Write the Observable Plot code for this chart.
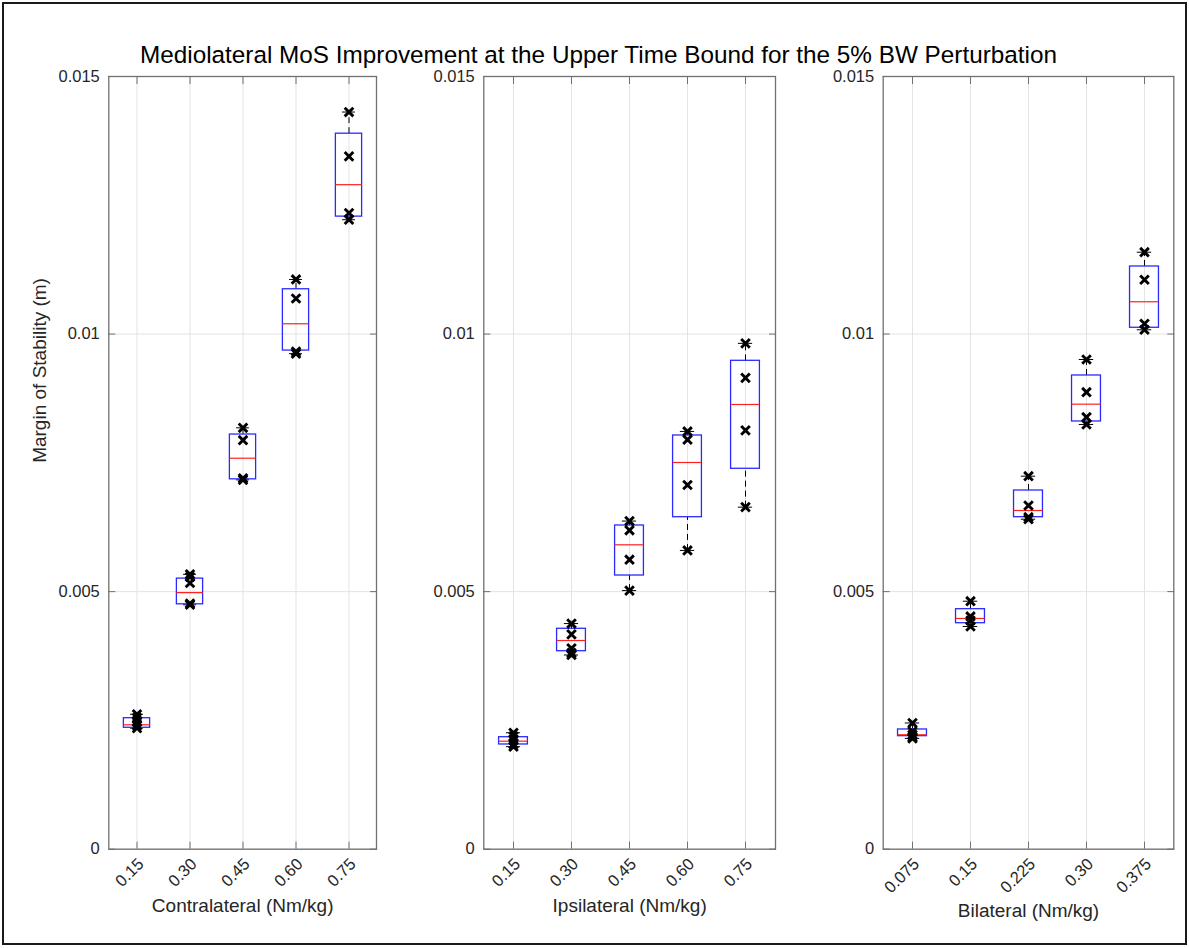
<!DOCTYPE html>
<html><head><meta charset="utf-8">
<script src="https://cdn.jsdelivr.net/npm/d3@7"></script>
<script src="https://cdn.jsdelivr.net/npm/@observablehq/plot@0.6"></script>
<style>
body{margin:0;background:#fff;}
#fig{position:relative;width:1189px;height:948px;overflow:hidden;font-family:"Liberation Sans",Arial,sans-serif;background:#fff;}
#border{position:absolute;left:2px;top:2px;width:1181px;height:939px;border:2px solid #1a1a1a;z-index:3;}
#title{position:absolute;top:43px;left:0;width:1197px;text-align:center;font-size:24.3px;line-height:24px;color:#000;z-index:2;}
.panel{position:absolute;top:0;}
</style></head><body>
<div id="fig"></div>
<script>
// ---- data ----
const titleText = "Mediolateral MoS Improvement at the Upper Time Bound for the 5% BW Perturbation";
const yLabelText = "Margin of Stability (m)";
const yTicks = [0, 0.005, 0.01, 0.015];
const yTickLabels = ["0", "0.005", "0.01", "0.015"];

const contraCats = ["0.15", "0.30", "0.45", "0.60", "0.75"];
const contraQ1  = [0.002357, 0.004754, 0.00718, 0.00968, 0.01228];
const contraMed = [0.002415, 0.004981, 0.00759, 0.01020, 0.01290];
const contraQ3  = [0.002543, 0.005253, 0.00805, 0.01087, 0.01389];
const contraPts = [
  [0.00262, 0.00255, 0.00247, 0.00240, 0.00235],
  [0.005336, 0.005284, 0.005167, 0.004768, 0.004745],
  [0.00818, 0.00794, 0.00720, 0.00717],
  [0.01106, 0.01069, 0.00966, 0.00962],
  [0.01431, 0.01345, 0.01235, 0.01222]
];

const ipsiCats = ["0.15", "0.30", "0.45", "0.60", "0.75"];
const ipsiQ1  = [0.002033, 0.003844, 0.005313, 0.006445, 0.007385];
const ipsiMed = [0.002097, 0.004051, 0.005909, 0.007507, 0.008633];
const ipsiQ3  = [0.002174, 0.004279, 0.006284, 0.008031, 0.009481];
const ipsiPts = [
  [0.00226, 0.00219, 0.00212, 0.00204, 0.00199],
  [0.00438, 0.00417, 0.00390, 0.00381, 0.00377],
  [0.00637, 0.00619, 0.00562, 0.00502],
  [0.00811, 0.00795, 0.00707, 0.00580],
  [0.00982, 0.00915, 0.00813, 0.00664]
];

const bilatCats = ["0.075", "0.15", "0.225", "0.30", "0.375"];
const bilatQ1  = [0.002194, 0.004387, 0.006445, 0.008303, 0.010122];
const bilatMed = [0.002221, 0.004479, 0.006575, 0.008639, 0.010627];
const bilatQ3  = [0.002324, 0.004659, 0.006963, 0.009196, 0.011312];
const bilatPts = [
  [0.00245, 0.00229, 0.00222, 0.00218, 0.00215],
  [0.004814, 0.004518, 0.00444, 0.004323],
  [0.007241, 0.006672, 0.006445, 0.006406],
  [0.009506, 0.008872, 0.008386, 0.008245],
  [0.011589, 0.011054, 0.0102, 0.010083]
];

// ---- drawing ----
const FONT = '"Liberation Sans", Arial, sans-serif';
const AXC = "#707070";
const fig = document.getElementById("fig");

function panel({cats, q1, med, q3, pts, xLabel, yLabel, left, marginLeft, plotWidth, xLabelDy}) {
  const rows = cats.map((c, i) => ({cat: c, q1: q1[i], med: med[i], q3: q3[i], lo: d3.min(pts[i]), hi: d3.max(pts[i])}));
  const points = cats.flatMap((c, i) => pts[i].map(v => ({cat: c, v})));
  const bw = plotWidth / cats.length;
  const marginTop = 76, marginBottom = 948 - 848.7, marginRight = 10;
  const marks = [
    Plot.gridX(cats, {stroke: "#e3e3e3", strokeOpacity: 1}),
    Plot.gridY(yTicks, {stroke: "#e3e3e3", strokeOpacity: 1}),
    Plot.ruleX(rows, {x: "cat", y1: "q3", y2: "hi", stroke: "black", strokeDasharray: "6,4"}),
    Plot.ruleX(rows, {x: "cat", y1: "lo", y2: "q1", stroke: "black", strokeDasharray: "6,4"}),
    Plot.tickY(rows, {x: "cat", y: "hi", stroke: "black", insetLeft: bw * 0.375, insetRight: bw * 0.375}),
    Plot.tickY(rows, {x: "cat", y: "lo", stroke: "black", insetLeft: bw * 0.375, insetRight: bw * 0.375}),
    Plot.barY(rows, {x: "cat", y1: "q1", y2: "q3", fill: "none", stroke: "#2a2aff", strokeWidth: 1.3, insetLeft: bw * 0.25, insetRight: bw * 0.25}),
    Plot.tickY(rows, {x: "cat", y: "med", stroke: "#ff2020", strokeWidth: 1.2, insetLeft: bw * 0.25, insetRight: bw * 0.25}),
    Plot.dot(points, {x: "cat", y: "v", symbol: "times", r: 4, stroke: "black", strokeWidth: 2.9}),
    Plot.frame({stroke: AXC, strokeWidth: 1.3}),
    Plot.axisY({anchor: "left", ticks: yTicks, tickSize: 0, tickPadding: 9, fontSize: 16.5, tickFormat: d => yTickLabels[yTicks.indexOf(d)], fill: "#262626", label: null}),
    Plot.axisY({anchor: "left", ticks: yTicks, tickSize: -7, stroke: AXC, tickFormat: () => "", label: null}),
    Plot.axisY({anchor: "right", ticks: yTicks, tickSize: -7, stroke: AXC, tickFormat: () => "", label: null}),
    Plot.axisX({anchor: "bottom", tickSize: 0, tickRotate: -45, tickPadding: 12, dx: 4, fontSize: 16.5, fill: "#262626", label: null}),
    Plot.axisX({anchor: "bottom", tickSize: -7, stroke: AXC, tickFormat: () => "", label: null}),
    Plot.axisX({anchor: "top", tickSize: -7, stroke: AXC, tickFormat: () => "", label: null}),
    Plot.text([xLabel], {frameAnchor: "bottom", dy: xLabelDy, fontSize: 19, fill: "#262626", text: d => d})
  ];
  if (yLabel) marks.push(Plot.text([yLabel], {frameAnchor: "left", dx: -69, rotate: -90, fontSize: 19, fill: "#262626", text: d => d}));
  const chart = Plot.plot({
    width: marginLeft + plotWidth + marginRight,
    height: 948,
    marginLeft, marginRight, marginTop, marginBottom,
    style: {fontFamily: FONT, background: "transparent", overflow: "visible", color: "#262626"},
    x: {type: "band", domain: cats, padding: 0},
    y: {domain: [0, 0.015]},
    marks
  });
  chart.classList.add("panel");
  chart.style.left = left + "px";
  fig.appendChild(chart);
}

panel({cats: contraCats, q1: contraQ1, med: contraMed, q3: contraQ3, pts: contraPts,
  xLabel: "Contralateral (Nm/kg)", yLabel: yLabelText, left: 0, marginLeft: 108.3, plotWidth: 267.7, xLabelDy: 63});
panel({cats: ipsiCats, q1: ipsiQ1, med: ipsiMed, q3: ipsiQ3, pts: ipsiPts,
  xLabel: "Ipsilateral (Nm/kg)", yLabel: null, left: 400, marginLeft: 83.3, plotWidth: 291.7, xLabelDy: 63});
panel({cats: bilatCats, q1: bilatQ1, med: bilatMed, q3: bilatQ3, pts: bilatPts,
  xLabel: "Bilateral (Nm/kg)", yLabel: null, left: 800, marginLeft: 82.7, plotWidth: 290.6, xLabelDy: 68});

const t = document.createElement("div");
t.id = "title";
t.textContent = titleText;
fig.appendChild(t);
const b = document.createElement("div");
b.id = "border";
fig.appendChild(b);
</script>
</body></html>
